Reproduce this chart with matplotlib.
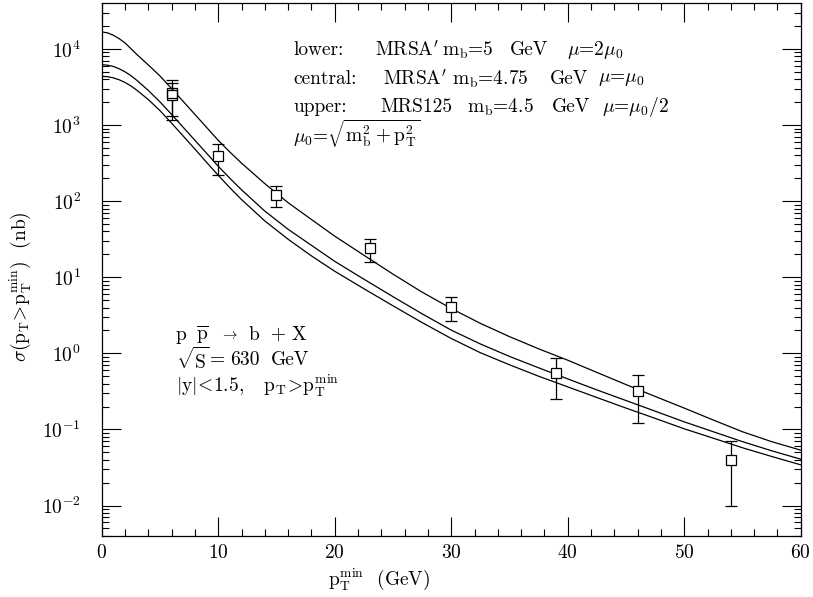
import matplotlib
matplotlib.use('Agg')
import matplotlib.pyplot as plt
from matplotlib.ticker import MultipleLocator, LogLocator, NullFormatter

plt.rcParams['mathtext.fontset'] = 'cm'
plt.rcParams['font.family'] = ['cmr10', 'DejaVu Serif']
plt.rcParams['axes.formatter.use_mathtext'] = True

# ---- theory curves (sigma in nb vs pT_min in GeV) ----
pt_grid = [0, 0.5, 1, 1.5, 2, 2.5, 3, 4, 5, 6, 7, 8, 9, 10, 11, 12, 14, 16,
           18, 20, 22.5, 25, 27.5, 30, 32.5, 35, 37.5, 40, 42.5, 45, 47.5,
           50, 52.5, 55, 57.5, 60]
sigma_upper = [16750, 16290, 15140, 13650, 12020, 10120, 8510, 6170, 4416,
               3020, 2042, 1380, 933, 631, 442, 316, 170, 95.5, 57.5, 34.7,
               19.5, 11.0, 6.38, 3.89, 2.48, 1.66, 1.148, 0.813, 0.562,
               0.389, 0.272, 0.191, 0.133, 0.0933, 0.0692, 0.0535]
sigma_central = [6209, 6124, 5888, 5495, 5012, 4467, 3890, 2851, 2018, 1380,
                 933, 631, 427, 288, 200, 141, 74.1, 42.7, 26.3, 16.2, 9.44,
                 5.56, 3.31, 2.02, 1.33, 0.912, 0.646, 0.462, 0.331, 0.240,
                 0.174, 0.126, 0.0933, 0.0692, 0.0525, 0.0407]
sigma_lower = [4365, 4325, 4169, 3936, 3631, 3273, 2884, 2163, 1549, 1059,
               716, 484, 324, 219, 150, 105, 55.0, 31.6, 19.1, 12.0, 7.08,
               4.22, 2.54, 1.57, 1.02, 0.708, 0.501, 0.363, 0.263, 0.191,
               0.140, 0.102, 0.0767, 0.0575, 0.0442, 0.0343]

# ---- data points ----
data_pt = [6, 10, 15, 23, 30, 39, 46, 54]
data_sigma = [2500, 398, 121, 24.1, 4.1, 0.546, 0.322, 0.040]
data_lo = [1175, 222, 85, 15.9, 2.69, 0.25, 0.121, 0.0099]
data_hi = [3950, 567, 160, 32.2, 5.45, 0.86, 0.518, 0.0695]

inner_pt = [6]
inner_sigma = [2650]
inner_lo = [1300]
inner_hi = [3570]

W, H = 813, 597
fig = plt.figure(figsize=(W / 100, H / 100), dpi=100)
L, R, T, B = 101.7, 800.7, 3.3, 536.0
ax = fig.add_axes([L / W, 1 - B / H, (R - L) / W, (B - T) / H])

for s in (sigma_upper, sigma_central, sigma_lower):
    ax.plot(pt_grid, s, color='black', lw=0.9, zorder=2)

yerr = [[v - lo for v, lo in zip(data_sigma, data_lo)],
        [hi - v for v, hi in zip(data_sigma, data_hi)]]
ax.errorbar(data_pt, data_sigma, yerr=yerr, fmt='s', ms=7, mfc='white',
            mec='black', mew=0.9, ecolor='black', elinewidth=0.9,
            capsize=4, capthick=0.9, zorder=3)
yerr2 = [[v - lo for v, lo in zip(inner_sigma, inner_lo)],
         [hi - v for v, hi in zip(inner_sigma, inner_hi)]]
ax.errorbar(inner_pt, inner_sigma, yerr=yerr2, fmt='s', ms=7, mfc='none',
            mec='black', mew=0.9, ecolor='black', elinewidth=0.9,
            capsize=4, capthick=0.9, zorder=3)

ax.set_yscale('log')
ax.set_xlim(0, 60)
ax.set_ylim(10 ** -2.4, 10 ** 4.6)
ax.xaxis.set_major_locator(MultipleLocator(10))
ax.xaxis.set_minor_locator(MultipleLocator(2))
ax.yaxis.set_major_locator(LogLocator(base=10, numticks=20))
ax.yaxis.set_minor_locator(LogLocator(base=10, subs=range(2, 10), numticks=200))
ax.yaxis.set_minor_formatter(NullFormatter())
ax.tick_params(which='both', direction='in', top=True, right=True,
               color='black', width=0.8, labelsize=14)
ax.tick_params(which='major', length=14)
ax.tick_params(which='minor', length=5)
ax.tick_params(axis='y', which='major', pad=15)
ax.tick_params(axis='x', which='major', pad=6)
for sp in ax.spines.values():
    sp.set_linewidth(0.9)

FS = 14


def ftext(px, py, s, **kw):
    kw.setdefault('va', 'center')
    kw.setdefault('fontsize', FS)
    fig.text(px / W, 1 - py / H, s, **kw)


# top-right annotation block (pieces placed as in the reference)
ftext(293, 50, 'lower:')
ftext(375, 50, r'MRSA$^\prime$')
ftext(442, 50, r'm$_\mathrm{b}$=5')
ftext(510, 50, 'GeV')
ftext(567, 50, r'$\mu$=2$\mu_0$')

ftext(293, 79, 'central:')
ftext(383, 79, r'MRSA$^\prime$')
ftext(452, 79, r'm$_\mathrm{b}$=4.75')
ftext(550, 79, 'GeV')
ftext(598, 79, r'$\mu$=$\mu_0$')

ftext(293, 107, 'upper:')
ftext(380, 107, 'MRS125')
ftext(467, 107, r'm$_\mathrm{b}$=4.5')
ftext(552, 107, 'GeV')
ftext(602, 107, r'$\mu$=$\mu_0$/2')

ftext(293, 134, r'$\mu_0$=$\sqrt{\mathrm{m_b^2+p_T^2}}$')

# lower-left annotation block
ftext(176, 335, 'p')
ftext(196, 335, r'$\overline{\mathrm{p}}$')
ftext(220, 335, r'$\rightarrow$', fontsize=FS * 0.75)
ftext(249, 335, 'b')
ftext(271, 335, '+')
ftext(292, 335, 'X')

ftext(176, 360, r'$\sqrt{\mathrm{S}}$')
ftext(210, 360, '=')
ftext(230, 360, '630')
ftext(271, 360, 'GeV')

ftext(176, 386,
      r'$|\mathrm{y}|\!<\!\mathrm{1.5},\ \ \ \mathrm{p_T}\!>\!\mathrm{p_T^{min}}$')

# axis labels
ftext(328, 579, r'p$_\mathrm{T}^\mathrm{min}$  (GeV)')
fig.text(20 / W, 1 - 362 / H,
         r'$\sigma(\mathrm{p_T}\!>\!\mathrm{p_T^{min}})$  (nb)',
         ha='center', va='bottom', rotation=90, fontsize=FS)

fig.savefig('out.png', dpi=100)
